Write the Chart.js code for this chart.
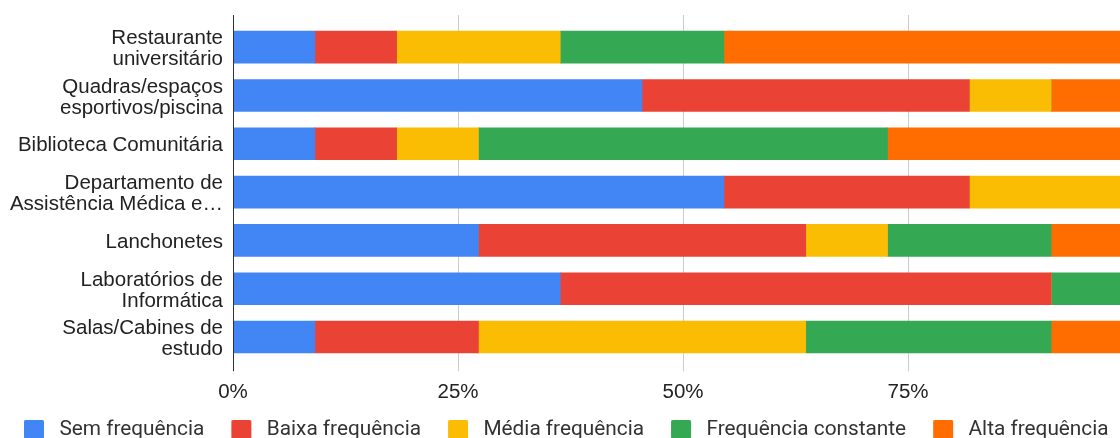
<!DOCTYPE html>
<html>
<head>
<meta charset="utf-8">
<script src="https://cdn.jsdelivr.net/npm/chart.js@4"></script>
<style>
  html, body { margin: 0; padding: 0; background: #fff; overflow: hidden; }
  #wrap { width: 1145px; height: 450px; position: relative; }
</style>
</head>
<body>
<div id="wrap"><canvas id="usoChart"></canvas></div>
<script>
// espaços do campus avaliados
const espacos = [
  ['Restaurante', 'universitário'],
  ['Quadras/espaços', 'esportivos/piscina'],
  'Biblioteca Comunitária',
  ['Departamento de', 'Assistência Médica e…'],
  'Lanchonetes',
  ['Laboratórios de', 'Informática'],
  ['Salas/Cabines de', 'estudo']
]

// respostas por nível de frequência (11 respondentes)
const semFrequencia = [1, 5, 1, 6, 3, 4, 1]
const baixaFrequencia = [1, 4, 1, 3, 4, 6, 2]
const mediaFrequencia = [2, 1, 1, 2, 1, 0, 4]
const frequenciaConstante = [2, 0, 5, 0, 2, 1, 3]
const altaFrequencia = [5, 1, 3, 0, 1, 0, 1]

const xTicks = [0, 25, 50, 75, 100]

const totais = espacos.map((_, i) =>
  semFrequencia[i] + baixaFrequencia[i] + mediaFrequencia[i] + frequenciaConstante[i] + altaFrequencia[i])

function toPercent(serie) {
  return serie.map((v, i) => v / totais[i] * 100)
}

// quadradinho da legenda, com folga para o espaçamento do texto
function makeSwatch(color) {
  const c = document.createElement('canvas')
  c.width = 49
  c.height = 20
  const g = c.getContext('2d')
  g.fillStyle = color
  g.beginPath()
  g.roundRect(24, 0, 20, 20, 2)
  g.fill()
  return c
}

const gridLines = {
  id: 'gridLines',
  beforeDatasetsDraw(chart) {
    const {ctx, chartArea, scales} = chart
    ctx.save()
    ctx.strokeStyle = '#cccccc'
    ctx.lineWidth = 1
    xTicks.slice(1).forEach((t) => {
      const x = Math.round(scales.x.getPixelForValue(t)) + 0.5
      ctx.beginPath()
      ctx.moveTo(x, chartArea.top - 8)
      ctx.lineTo(x, chartArea.bottom + 10)
      ctx.stroke()
    })
    ctx.restore()
  },
  afterDatasetsDraw(chart) {
    const {ctx, chartArea, scales} = chart
    const x = Math.round(scales.x.getPixelForValue(0)) + 0.5
    ctx.save()
    ctx.strokeStyle = '#333333'
    ctx.lineWidth = 1
    ctx.beginPath()
    ctx.moveTo(x, chartArea.top - 8)
    ctx.lineTo(x, chartArea.bottom + 10)
    ctx.stroke()
    ctx.restore()
  }
}

const series = [
  ['Sem frequência', semFrequencia, '#4285F4'],
  ['Baixa frequência', baixaFrequencia, '#EA4335'],
  ['Média frequência', mediaFrequencia, '#FBBC04'],
  ['Frequência constante', frequenciaConstante, '#34A853'],
  ['Alta frequência', altaFrequencia, '#FF6D01']
]

const axisFont = { family: 'Arial, "Liberation Sans", sans-serif', size: 20.5, lineHeight: 1.03 }

const chart = new Chart(document.getElementById('usoChart'), {
  type: 'bar',
  data: {
    labels: espacos,
    datasets: series.map(([label, values, color]) => ({
      label: label,
      data: toPercent(values),
      backgroundColor: color,
      borderWidth: 0,
      barThickness: 32,
      pointStyle: makeSwatch(color)
    }))
  },
  options: {
    indexAxis: 'y',
    responsive: true,
    maintainAspectRatio: false,
    animation: false,
    layout: { padding: { top: 23, left: -3, right: 12, bottom: 0 } },
    scales: {
      x: {
        stacked: true,
        min: 0,
        max: 100,
        grid: { display: false },
        border: { display: false },
        ticks: {
          stepSize: 25,
          padding: 13,
          color: '#222',
          font: axisFont,
          callback: (v) => (v === 100 ? '' : v + '%')
        },
        afterFit: (scale) => {
          scale.height = 55
          scale.paddingLeft = 0
          scale.paddingRight = 0
        }
      },
      y: {
        stacked: true,
        grid: { display: false, drawTicks: false },
        border: { display: false },
        ticks: { padding: 10, labelOffset: 2, color: '#222', font: axisFont, autoSkip: false },
        afterFit: (scale) => {
          scale.width = 236
          scale.paddingTop = 0
          scale.paddingBottom = 0
        }
      }
    },
    plugins: {
      tooltip: { enabled: false },
      legend: {
        position: 'bottom',
        align: 'start',
        labels: {
          usePointStyle: true,
          pointStyleWidth: 49,
          boxHeight: 20,
          padding: 3,
          color: '#333',
          font: { family: 'Roboto, sans-serif', size: 20.8 }
        }
      }
    }
  },
  plugins: [gridLines]
})
</script>
</body>
</html>
